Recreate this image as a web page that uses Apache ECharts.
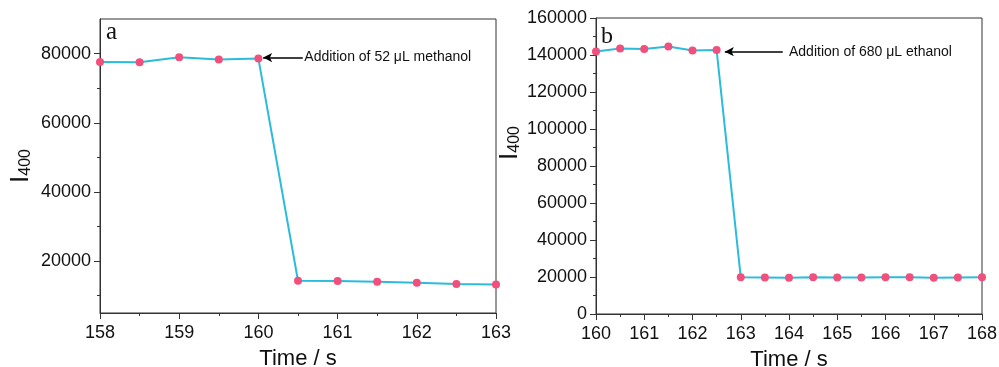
<!DOCTYPE html>
<html><head><meta charset="utf-8">
<script src="https://cdn.jsdelivr.net/npm/echarts@6/dist/echarts.min.js"></script>
<style>html,body{margin:0;padding:0;background:#fff}#c{width:999px;height:367px}</style>
</head><body><div id="c"></div>
<script>
// Panel a data
const timeA = [158, 158.5, 159, 159.5, 160, 160.5, 161, 161.5, 162, 162.5, 163];
const valuesA = [77570, 77500, 78930, 78260, 78550, 14310, 14220, 14020, 13730, 13350, 13250];
const yTicksA = [20000, 40000, 60000, 80000];
const yMinorA = [10000, 30000, 50000, 70000];
const noteA = 'Addition of 52 \u03bcL methanol';

// Panel b data
const timeB = [160, 160.5, 161, 161.5, 162, 162.5, 163, 163.5, 164, 164.5, 165, 165.5, 166, 166.5, 167, 167.5, 168];
const valuesB = [141900, 143560, 143200, 144640, 142480, 142660, 19840, 19750, 19650, 19850, 19700, 19700, 19800, 19800, 19600, 19700, 19800];
const noteB = 'Addition of 680 \u03bcL ethanol';

const LINE = '#2bbcdc', DOT = '#f24f7c', AX = '#333', FONT = 'Liberation Sans, Arial, sans-serif';

const chart = echarts.init(document.getElementById('c'), null, {renderer: 'canvas'});
const plain = v => String(v);

function xAxis(idx, min, max) {
  return {
    type: 'value', gridIndex: idx, min: min, max: max, interval: 1,
    name: 'Time / s', nameLocation: 'middle', nameGap: 35,
    nameTextStyle: {fontFamily: FONT, fontSize: 22, color: '#111'},
    axisLine: {show: true, onZero: false, lineStyle: {color: AX, width: 1}},
    axisTick: {show: true, length: 6, lineStyle: {color: AX}},
    minorTick: {show: true, splitNumber: 2, length: 3, lineStyle: {color: AX}},
    axisLabel: {fontFamily: FONT, fontSize: 18, color: '#111', margin: 11, formatter: plain},
    splitLine: {show: false}
  };
}
const yName = '{i|I}{s|400}';
const yRich = {i: {fontFamily: FONT, fontSize: 26, color: '#111'}, s: {fontFamily: FONT, fontSize: 16, color: '#111', verticalAlign: 'bottom'}};

const option = {
  animation: false,
  grid: [
    {left: 100, top: 19, right: 503, bottom: 54, show: true, borderColor: AX, borderWidth: 1, outerBoundsMode: 'none', containLabel: false},
    {left: 596, top: 18, right: 17, bottom: 53, show: true, borderColor: AX, borderWidth: 1, outerBoundsMode: 'none', containLabel: false}
  ],
  xAxis: [xAxis(0, 158, 163), xAxis(1, 160, 168)],
  yAxis: [
    {
      type: 'value', gridIndex: 0, min: 5000, max: 90000,
      name: yName, nameLocation: 'middle', nameGap: 66, nameRotate: 90,
      nameTextStyle: {rich: yRich},
      axisLine: {show: true, lineStyle: {color: AX}},
      axisTick: {show: true, length: 6, customValues: yTicksA, lineStyle: {color: AX}},
      axisLabel: {customValues: yTicksA, fontFamily: FONT, fontSize: 18, color: '#111', margin: 9, formatter: plain},
      splitLine: {show: false}
    },
    {
      type: 'value', gridIndex: 0, min: 5000, max: 90000, position: 'left',
      axisLine: {show: false},
      axisTick: {show: true, length: 3, customValues: yMinorA, lineStyle: {color: AX}},
      axisLabel: {show: false}, splitLine: {show: false}
    },
    {
      type: 'value', gridIndex: 1, min: 0, max: 160000, interval: 20000,
      name: yName, nameLocation: 'middle', nameGap: 73, nameRotate: 90,
      nameTextStyle: {rich: yRich, padding: [0, 0, 0, 46]},
      axisLine: {show: true, lineStyle: {color: AX}},
      axisTick: {show: true, length: 6, lineStyle: {color: AX}},
      minorTick: {show: true, splitNumber: 2, length: 3, lineStyle: {color: AX}},
      axisLabel: {fontFamily: FONT, fontSize: 18, color: '#111', margin: 9, formatter: plain},
      splitLine: {show: false}
    }
  ],
  series: [
    {
      type: 'line', xAxisIndex: 0, yAxisIndex: 0,
      data: timeA.map((t, i) => [t, valuesA[i]]),
      lineStyle: {color: LINE, width: 2}, itemStyle: {color: DOT},
      symbol: 'circle', symbolSize: 8, showSymbol: true, clip: false,
      markLine: {
        silent: true, symbol: ['none', 'arrow'], symbolSize: [7, 9],
        lineStyle: {color: '#000', width: 1.5, type: 'solid'}, label: {show: false},
        data: [[{coord: [160.56, 78850]}, {coord: [160.06, 78850]}]]
      },
      markPoint: {
        silent: true, symbol: 'circle', symbolSize: 0,
        label: {show: true, position: 'right', distance: 0, formatter: noteA, fontFamily: FONT, fontSize: 14, color: '#111'},
        data: [{coord: [160.58, 78850]}]
      }
    },
    {
      type: 'line', xAxisIndex: 1, yAxisIndex: 2,
      data: timeB.map((t, i) => [t, valuesB[i]]),
      lineStyle: {color: LINE, width: 2}, itemStyle: {color: DOT},
      symbol: 'circle', symbolSize: 8, showSymbol: true, clip: false,
      markLine: {
        silent: true, symbol: ['none', 'arrow'], symbolSize: [7, 9],
        lineStyle: {color: '#000', width: 1.5, type: 'solid'}, label: {show: false},
        data: [[{coord: [163.87, 141800]}, {coord: [162.67, 141800]}]]
      },
      markPoint: {
        silent: true, symbol: 'circle', symbolSize: 0,
        label: {show: true, position: 'right', distance: 0, formatter: noteB, fontFamily: FONT, fontSize: 14, color: '#111'},
        data: [{coord: [164.0, 141800]}]
      }
    }
  ],
  graphic: [
    {type: 'text', left: 106, top: 20, style: {text: 'a', font: '25px "Liberation Serif", serif', fill: '#111'}},
    {type: 'text', left: 601, top: 25, style: {text: 'b', font: '24px "Liberation Serif", serif', fill: '#111'}}
  ]
};
chart.setOption(option);
</script></body></html>
